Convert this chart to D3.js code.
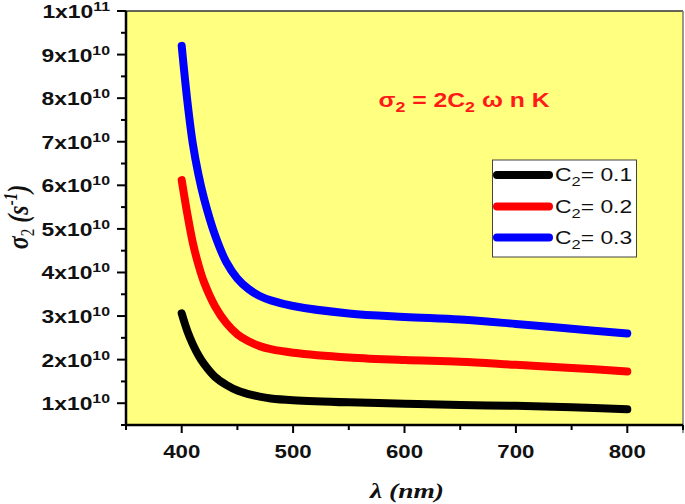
<!DOCTYPE html>
<html><head><meta charset="utf-8">
<script src="https://cdn.jsdelivr.net/npm/d3@7"></script>
<style>body{margin:0;background:#fff}svg{display:block}</style>
</head><body>
<script>
// wavelength (nm)
const lambda = [400,405,410,415,420,430,440,450,460,470,480,500,550,600,650,700,750,800];
// sigma_2 in units of 1e10 s^-1
const sigC01 = [3.06,2.66,2.35,2.10,1.90,1.60,1.42,1.29,1.21,1.15,1.11,1.07,1.02,0.99,0.96,0.94,0.91,0.86];
const sigC02 = [6.12,5.35,4.68,4.18,3.78,3.22,2.84,2.58,2.42,2.31,2.24,2.16,2.05,1.99,1.95,1.88,1.81,1.73];
const sigC03 = [9.20,7.95,6.95,6.25,5.70,4.85,4.24,3.86,3.62,3.46,3.36,3.23,3.06,2.98,2.92,2.82,2.71,2.60];
const seriesNames = ["0.1","0.2","0.3"];
const seriesColors = ["#000000","#ff0000","#0000ff"];
const xTicks = [400,500,600,700,800];
const yTicks = [1,2,3,4,5,6,7,8,9,10];

const W=685,H=504;
const m={l:126,r:2,t:11,b:79};
const svg=d3.select("body").append("svg").attr("width",W).attr("height",H);
const x=d3.scaleLinear().domain([350,850]).range([m.l,W-m.r]);
const y=d3.scaleLinear().domain([0.5,10]).range([H-m.b,m.t]);
const SX=1.27;

svg.append("rect").attr("x",x(350)).attr("y",y(10)).attr("width",x(850)-x(350)).attr("height",y(0.5)-y(10)).attr("fill","#ffff80");

// top and right frame
svg.append("line").attr("x1",x(350)).attr("x2",x(850)).attr("y1",y(10)).attr("y2",y(10)).attr("stroke","#333").attr("stroke-width",1.5);
svg.append("line").attr("x1",x(850)).attr("x2",x(850)).attr("y1",y(10)).attr("y2",y(0.5)+8).attr("stroke","#777").attr("stroke-width",1.5);

// y axis
const yMinor=d3.range(0.5,10.01,0.5);
svg.selectAll(".ytk").data(yMinor).enter().append("line")
  .attr("x1",d=>m.l-(Number.isInteger(d)?9:5)).attr("x2",m.l)
  .attr("y1",d=>y(d)).attr("y2",d=>y(d)).attr("stroke","#000").attr("stroke-width",2);
svg.append("line").attr("x1",m.l).attr("x2",m.l).attr("y1",y(10)).attr("y2",y(0.5)+1).attr("stroke","#000").attr("stroke-width",2.5);
yTicks.forEach(v=>{
  const t=svg.append("text").attr("transform",`translate(110,${y(v)+7}) scale(${SX},1)`)
    .attr("text-anchor","end").attr("font-family","Arial, 'Liberation Sans', sans-serif")
    .attr("font-weight","bold").attr("font-size",18).attr("fill","#111");
  const base = v===10 ? "1x10" : v+"x10";
  const sup = v===10 ? "11" : "10";
  t.append("tspan").text(base);
  t.append("tspan").attr("dy",-7).attr("font-size",12.5).text(sup);
});

// x axis
const xMinor=d3.range(350,851,50);
svg.selectAll(".xtk").data(xMinor).enter().append("line")
  .attr("x1",d=>x(d)).attr("x2",d=>x(d))
  .attr("y1",y(0.5)).attr("y2",d=>y(0.5)+(d%100===0?8:5)).attr("stroke","#000").attr("stroke-width",2);
svg.append("line").attr("x1",m.l-1).attr("x2",x(850)).attr("y1",y(0.5)).attr("y2",y(0.5)).attr("stroke","#000").attr("stroke-width",2.5);
xTicks.forEach(v=>{
  svg.append("text").attr("transform",`translate(${x(v)},457.5) scale(${SX},1)`)
    .attr("text-anchor","middle").attr("font-family","Arial, 'Liberation Sans', sans-serif")
    .attr("font-weight","bold").attr("font-size",17.5).attr("fill","#111").text(v);
});

// axis titles
const xt=svg.append("text").attr("transform",`translate(407,498) scale(1.25,1)`).attr("text-anchor","middle")
  .attr("font-family","'Liberation Serif', 'Times New Roman', serif").attr("font-style","italic")
  .attr("font-weight","bold").attr("font-size",22).attr("fill","#111");
xt.append("tspan").text("λ (nm)");

const yt=svg.append("text").attr("transform",`translate(28,217) rotate(-90) scale(1,1.2)`).attr("text-anchor","middle")
  .attr("font-family","'Liberation Serif', 'Times New Roman', serif").attr("font-style","italic")
  .attr("font-weight","bold").attr("font-size",24).attr("fill","#111");
yt.append("tspan").text("σ");
yt.append("tspan").attr("dy",5).attr("font-size",15).attr("font-style","normal").attr("font-weight","normal").text("2");
yt.append("tspan").attr("dy",-5).text(" (s");
yt.append("tspan").attr("dy",-9).attr("font-size",15).text("-1");
yt.append("tspan").attr("dy",9).text(")");

// curves
const line=d3.line().x(d=>x(d[0])).y(d=>y(d[1])).curve(d3.curveCatmullRom.alpha(0.5));
[sigC01,sigC02,sigC03].forEach((s,i)=>{
  svg.append("path").datum(lambda.map((l,j)=>[l,s[j]])).attr("d",line)
    .attr("fill","none").attr("stroke",seriesColors[i]).attr("stroke-width",8)
    .attr("stroke-linecap","round").attr("stroke-linejoin","round");
});

// formula
const ft=svg.append("text").attr("transform",`translate(464,107) scale(${SX},1)`).attr("text-anchor","middle")
  .attr("font-family","Arial, 'Liberation Sans', sans-serif").attr("font-weight","bold").attr("font-size",19.5).attr("fill","#ff1a1a");
ft.append("tspan").text("σ");
ft.append("tspan").attr("dy",5).attr("font-size",14).text("2");
ft.append("tspan").attr("dy",-5).text(" = 2C");
ft.append("tspan").attr("dy",5).attr("font-size",14).text("2");
ft.append("tspan").attr("dy",-5).text(" ω n K");

// legend
const lg=svg.append("g");
lg.append("rect").attr("x",492.5).attr("y",160).attr("width",144).attr("height",97)
  .attr("fill","#fff").attr("stroke","#444").attr("stroke-width",1);
const ly=[175,206.5,237.5];
seriesNames.forEach((n,i)=>{
  lg.append("line").attr("x1",497).attr("x2",549).attr("y1",ly[i]).attr("y2",ly[i])
    .attr("stroke",seriesColors[i]).attr("stroke-width",8).attr("stroke-linecap","round");
  const t=lg.append("text").attr("transform",`translate(555,${ly[i]+6}) scale(${SX},1)`)
    .attr("font-family","Arial, 'Liberation Sans', sans-serif").attr("font-size",18).attr("fill","#111");
  t.append("tspan").text("C");
  t.append("tspan").attr("dy",5).attr("font-size",13).text("2");
  t.append("tspan").attr("dy",-5).text("= "+n);
});
</script>
</body></html>
